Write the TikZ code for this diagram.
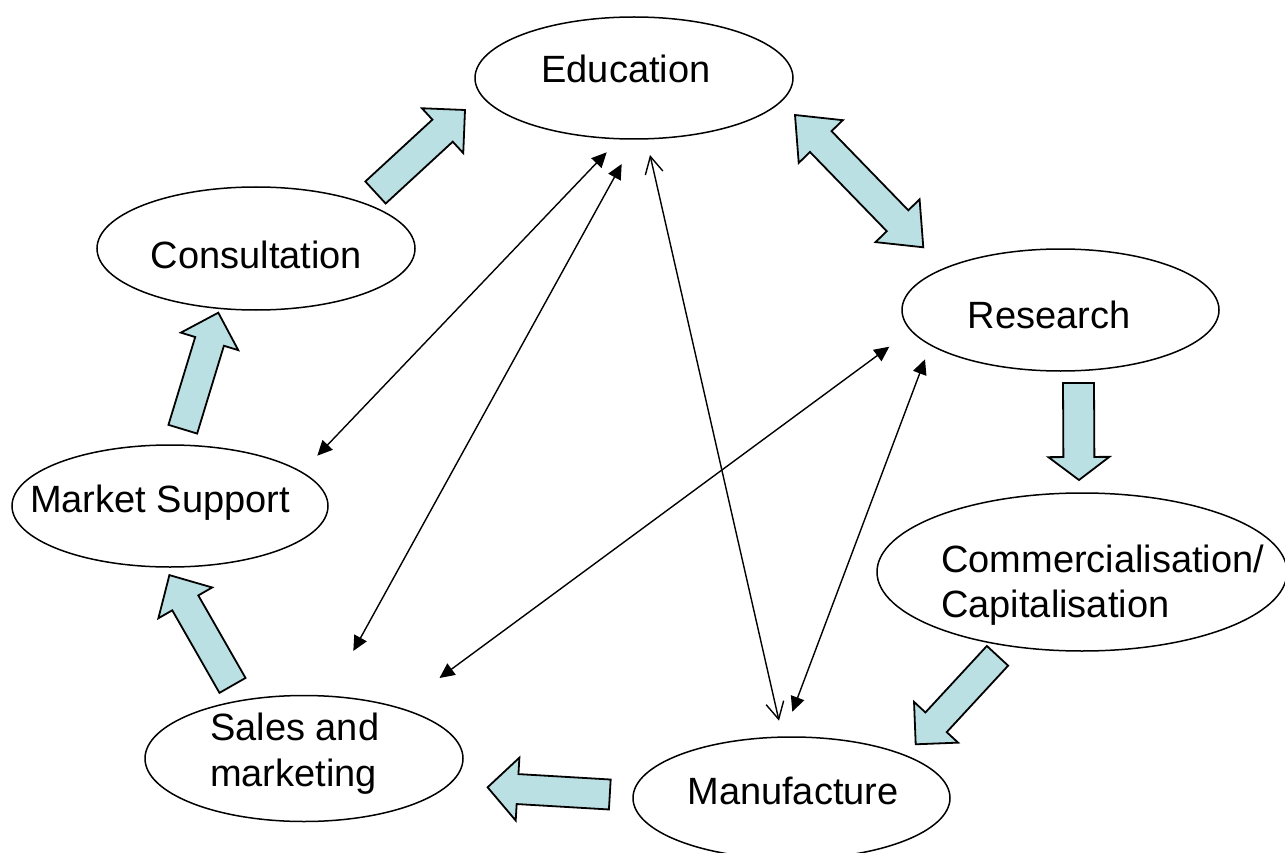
\documentclass[tikz,border=0pt]{standalone}
\usepackage{fontspec}
\setmainfont{Liberation Sans}
\usetikzlibrary{calc,arrows.meta,shapes.geometric}
\definecolor{arrowfill}{RGB}{187,224,227}

% Block arrow: tail centre, tip, half shaft width, half head width, head length
\newcommand{\fatarrow}[5]{%
  \coordinate (fa-b) at ($(#2)!#5!(#1)$);
  \draw[fatshape]
    ($(#1)!#3!90:(#2)$) -- ($(fa-b)!#3!90:(#2)$) -- ($(fa-b)!#4!90:(#2)$) --
    (#2) --
    ($(fa-b)!#4!-90:(#2)$) -- ($(fa-b)!#3!-90:(#2)$) -- ($(#1)!#3!-90:(#2)$) -- cycle;
}
% Double-headed block arrow: tip one, tip two, half shaft, half head, head length
\newcommand{\fatdouble}[5]{%
  \coordinate (fd-a) at ($(#1)!#5!(#2)$);
  \coordinate (fd-b) at ($(#2)!#5!(#1)$);
  \draw[fatshape]
    (#1) -- ($(fd-a)!#4!90:(#2)$) -- ($(fd-a)!#3!90:(#2)$) --
    ($(fd-b)!#3!90:(#2)$) -- ($(fd-b)!#4!90:(#2)$) --
    (#2) --
    ($(fd-b)!#4!-90:(#2)$) -- ($(fd-b)!#3!-90:(#2)$) --
    ($(fd-a)!#3!-90:(#2)$) -- ($(fd-a)!#4!-90:(#2)$) -- cycle;
}

\tikzset{
  bubble/.style={draw=black, line width=1.5pt, ellipse, inner sep=0pt},
  label/.style={font=\fontsize{38}{45}\selectfont, inner sep=0pt, anchor=base},
  labelleft/.style={label, anchor=base west},
  fatshape/.style={draw=black, line width=1.8pt, fill=arrowfill, line join=miter},
  linkfilled/.style={line width=1.4pt,
    {Triangle[length=15pt,width=14pt]}-{Triangle[length=15pt,width=14pt]}},
  linkopen/.style={line width=1.4pt,
    {Straight Barb[length=17pt,width=18pt]}-{Straight Barb[length=17pt,width=18pt]}},
}

\begin{document}
\begin{tikzpicture}[x=1pt,y=-1pt]
\useasboundingbox (0,0) rectangle (1285,853);

% ellipses
\node[bubble, minimum width=318pt, minimum height=122pt] (edu)  at (634,78) {};
\node[bubble, minimum width=318pt, minimum height=123pt] (cons) at (256,248.5) {};
\node[bubble, minimum width=316pt, minimum height=122pt] (mkt)  at (170,506) {};
\node[bubble, minimum width=317pt, minimum height=122pt] (res)  at (1060.5,310) {};
\node[bubble, minimum width=410pt, minimum height=158pt] (comm) at (1082,572) {};
\node[bubble, minimum width=318pt, minimum height=126pt] (sales) at (304,758.5) {};
\node[bubble, minimum width=317pt, minimum height=122pt] (manu) at (791.5,798) {};

% labels
\node[label] (edu-t)  at (626,83) {Education};
\node[label] (cons-t) at (256.5,268) {Consultation};
\node[label] (mkt-t)  at (160,512) {Market Support};
\node[label] (res-t)  at (1049,328) {Research};
\node[label] (manu-t) at (793,804) {Manufacture};
\node[labelleft] (comm-t1) at (941,572) {Commercialisation/};
\node[labelleft] (comm-t2) at (941,617) {Capitalisation};
\node[labelleft] (sales-t1) at (210,740.6) {Sales and};
\node[labelleft] (sales-t2) at (210,786) {marketing};

% block arrows around the cycle
\coordinate (ce-t) at (375.5,192.5);  \coordinate (ce-h) at (465,110);
\coordinate (er-a) at (795,115);      \coordinate (er-b) at (923.3,247.3);
\coordinate (rc-t) at (1078.5,383);   \coordinate (rc-h) at (1079,480);
\coordinate (cm-t) at (997.5,655.8);  \coordinate (cm-h) at (915.7,744.3);
\coordinate (ms-t) at (609.8,794.5);  \coordinate (ms-h) at (487.6,787.3);
\coordinate (sm-t) at (232.5,685.4);  \coordinate (sm-h) at (169.4,575.1);
\coordinate (mc-t) at (182.8,429.2);  \coordinate (mc-h) at (218.3,312.7);

\fatarrow{ce-t}{ce-h}{15pt}{30.5pt}{30.5pt}
\fatdouble{er-a}{er-b}{15pt}{30.7pt}{37pt}
\fatarrow{rc-t}{rc-h}{15.5pt}{30.5pt}{23pt}
\fatarrow{cm-t}{cm-h}{14.5pt}{30pt}{30pt}
\fatarrow{ms-t}{ms-h}{15pt}{31.5pt}{30pt}
\fatarrow{sm-t}{sm-h}{15pt}{31pt}{32pt}
\fatarrow{mc-t}{mc-h}{15pt}{30pt}{30pt}

% thin two-way links
\coordinate (l1a) at (606.7,152.3); \coordinate (l1b) at (317.3,455.7);
\coordinate (l2a) at (621.7,164);   \coordinate (l2b) at (353.3,651);
\coordinate (l3a) at (650,155);     \coordinate (l3b) at (779,720.7);
\coordinate (l4a) at (889.3,346.7); \coordinate (l4b) at (439.5,678);
\coordinate (l5a) at (925,359.3);   \coordinate (l5b) at (792.3,711.7);

\draw[linkfilled] (l1a) -- (l1b);
\draw[linkfilled] (l2a) -- (l2b);
\draw[linkopen]   (l3a) -- (l3b);
\draw[linkfilled] (l4a) -- (l4b);
\draw[linkfilled] (l5a) -- (l5b);
\end{tikzpicture}
\end{document}
